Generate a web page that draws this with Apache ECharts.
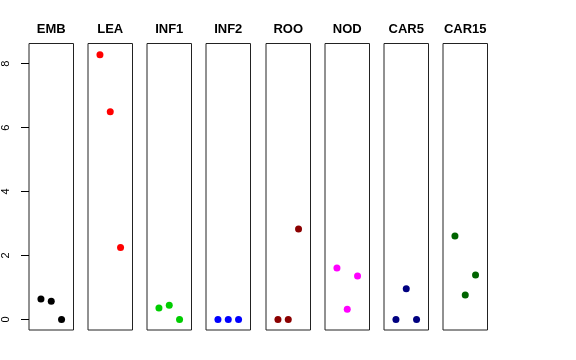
<!DOCTYPE html>
<html>
<head>
<meta charset="utf-8">
<script src="https://cdn.jsdelivr.net/npm/echarts@6/dist/echarts.min.js"></script>
<style>
html,body{margin:0;padding:0;background:#fff;}
#chart{width:576px;height:360px;}
</style>
</head>
<body>
<div id="chart"></div>
<script>
// Data
var panels = ["EMB", "LEA", "INF1", "INF2", "ROO", "NOD", "CAR5", "CAR15"];
var xPositions = [1, 2, 3];
var EMB = [0.64, 0.57, 0];
var LEA = [8.28, 6.5, 2.25];
var INF1 = [0.36, 0.44, 0];
var INF2 = [0, 0, 0];
var ROO = [0, 0, 2.83];
var NOD = [1.61, 0.32, 1.36];
var CAR5 = [0, 0.96, 0];
var CAR15 = [2.61, 0.76, 1.39];
var colors = ["#000000", "#FF0000", "#00CD00", "#0000FF", "#8B0000", "#FF00FF", "#000080", "#006400"];
var yTickMin = 0, yTickMax = 8, yTickStep = 2;

var seriesValues = [EMB, LEA, INF1, INF2, ROO, NOD, CAR5, CAR15];

(function () {
  var chart = echarts.init(document.getElementById('chart'), null, {renderer: 'canvas'});
  var grids = [], xAxes = [], yAxes = [], series = [], titles = [];
  var left0 = 29, step = 59.15, w = 44.5, gTop = 43.5, gH = 286.5;
  var yMin = -0.332, yMax = 8.632;
  panels.forEach(function (name, i) {
    var l = Math.round(left0 + i * step);
    grids.push({left: l, top: gTop, width: w, height: gH, show: true,
      borderColor: '#222', borderWidth: 1, backgroundColor: 'transparent'});
    xAxes.push({type: 'value', gridIndex: i, min: -0.16, max: 4.16, show: false});
    yAxes.push({type: 'value', gridIndex: i, min: yMin, max: yMax, show: false});
    series.push({type: 'scatter', xAxisIndex: i, yAxisIndex: i,
      data: xPositions.map(function (x, k) { return [x, seriesValues[i][k]]; }),
      symbol: 'circle', symbolSize: 7, itemStyle: {color: colors[i], opacity: 1},
      silent: true});
    titles.push({text: name, left: l + w / 2, top: 23, textAlign: 'center', padding: 0,
      textStyle: {fontSize: 13, fontWeight: 'bold', color: '#000',
        fontFamily: 'Liberation Sans, Arial, sans-serif'}});
  });
  // axis-only grid aligned so that 0..8 matches the panel scale
  var pxPerUnit = gH / (yMax - yMin);
  var axTop = gTop + (yMax - yTickMax) * pxPerUnit;
  var axH = (yTickMax - yTickMin) * pxPerUnit;
  grids.push({left: left0, top: axTop, width: w, height: axH, show: false});
  xAxes.push({type: 'value', gridIndex: 8, min: 0, max: 1, show: false});
  yAxes.push({type: 'value', gridIndex: 8, min: yTickMin, max: yTickMax, interval: yTickStep,
    axisLine: {show: false}, splitLine: {show: false},
    axisTick: {show: true, length: 8, lineStyle: {color: '#000'}},
    axisLabel: {rotate: 90, margin: 18, fontSize: 11, color: '#000',
      fontFamily: 'Liberation Sans, Arial, sans-serif'}});

  chart.setOption({
    animation: false,
    backgroundColor: '#fff',
    title: titles,
    grid: grids,
    xAxis: xAxes,
    yAxis: yAxes,
    series: series
  });
})();
</script>
</body>
</html>
